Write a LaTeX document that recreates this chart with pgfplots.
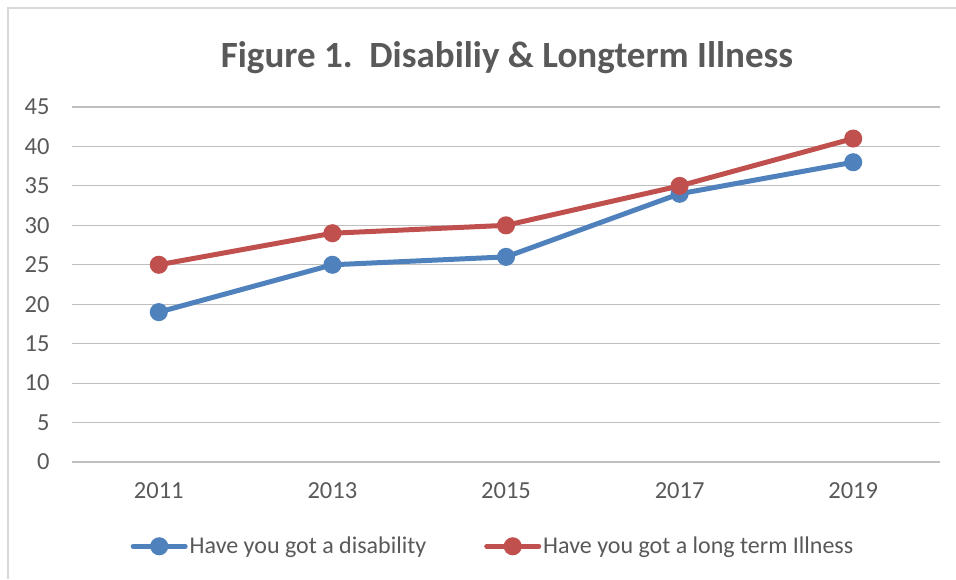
\documentclass[border=0pt]{standalone}
\usepackage{pgfplots}
\pgfplotsset{compat=1.18}
\usepackage{fontspec}
\setmainfont{Carlito}
\definecolor{txt}{HTML}{595959}
\definecolor{grid}{HTML}{D9D9D9}
\definecolor{bl}{HTML}{4F81BD}
\definecolor{rd}{HTML}{C0504D}
\begin{document}
\begin{tikzpicture}[x=1pt,y=1pt]
\path[use as bounding box] (0,0) rectangle (956,579);
\draw[grid,line width=1.2pt] (8,0) -- (8,571) -- (956,571);
\node[txt,font=\fontsize{37}{44}\selectfont\bfseries] at (507,521) {Figure 1.\ \ Disabiliy \& Longterm Illness};
\begin{axis}[
  at={(72pt,117pt)}, anchor=south west,
  scale only axis, width=868pt, height=355pt,
  xmin=-0.5, xmax=4.5, ymin=0, ymax=45,
  xtick={0,1,2,3,4}, xticklabels={2011,2013,2015,2017,2019},
  ytick={0,5,...,45},
  ymajorgrids, xmajorgrids=false,
  major grid style={grid,line width=1.2pt},
  axis line style={draw=none},
  major tick length=0pt,
  tick label style={txt,font=\fontsize{24.5}{29}\selectfont},
  /pgf/number format/assume math mode=true,
  xticklabel style={yshift=-17pt},
  yticklabel style={xshift=-19pt},
  legend style={at={(0.5,-0.2)}, anchor=north, xshift=-13pt, draw=none, legend columns=2,
    font=\fontsize{24}{29}\selectfont, text=txt,
    /tikz/every even column/.append style={column sep=56pt}},
  legend image code/.code={
    \draw[line width=5pt,line cap=round] (0pt,0pt) -- (52pt,0pt);
    \fill (26pt,0pt) circle (6.5pt);
  },
]
\addplot[bl,line width=5pt,mark=*,mark size=6.5pt] coordinates {(0,19)(1,25)(2,26)(3,34)(4,38)};
\addlegendentry{Have you got a disability}
\addplot[rd,line width=5pt,mark=*,mark size=6.5pt] coordinates {(0,25)(1,29)(2,30)(3,35)(4,41)};
\addlegendentry{Have you got a long term Illness}
\end{axis}
\end{tikzpicture}
\end{document}
